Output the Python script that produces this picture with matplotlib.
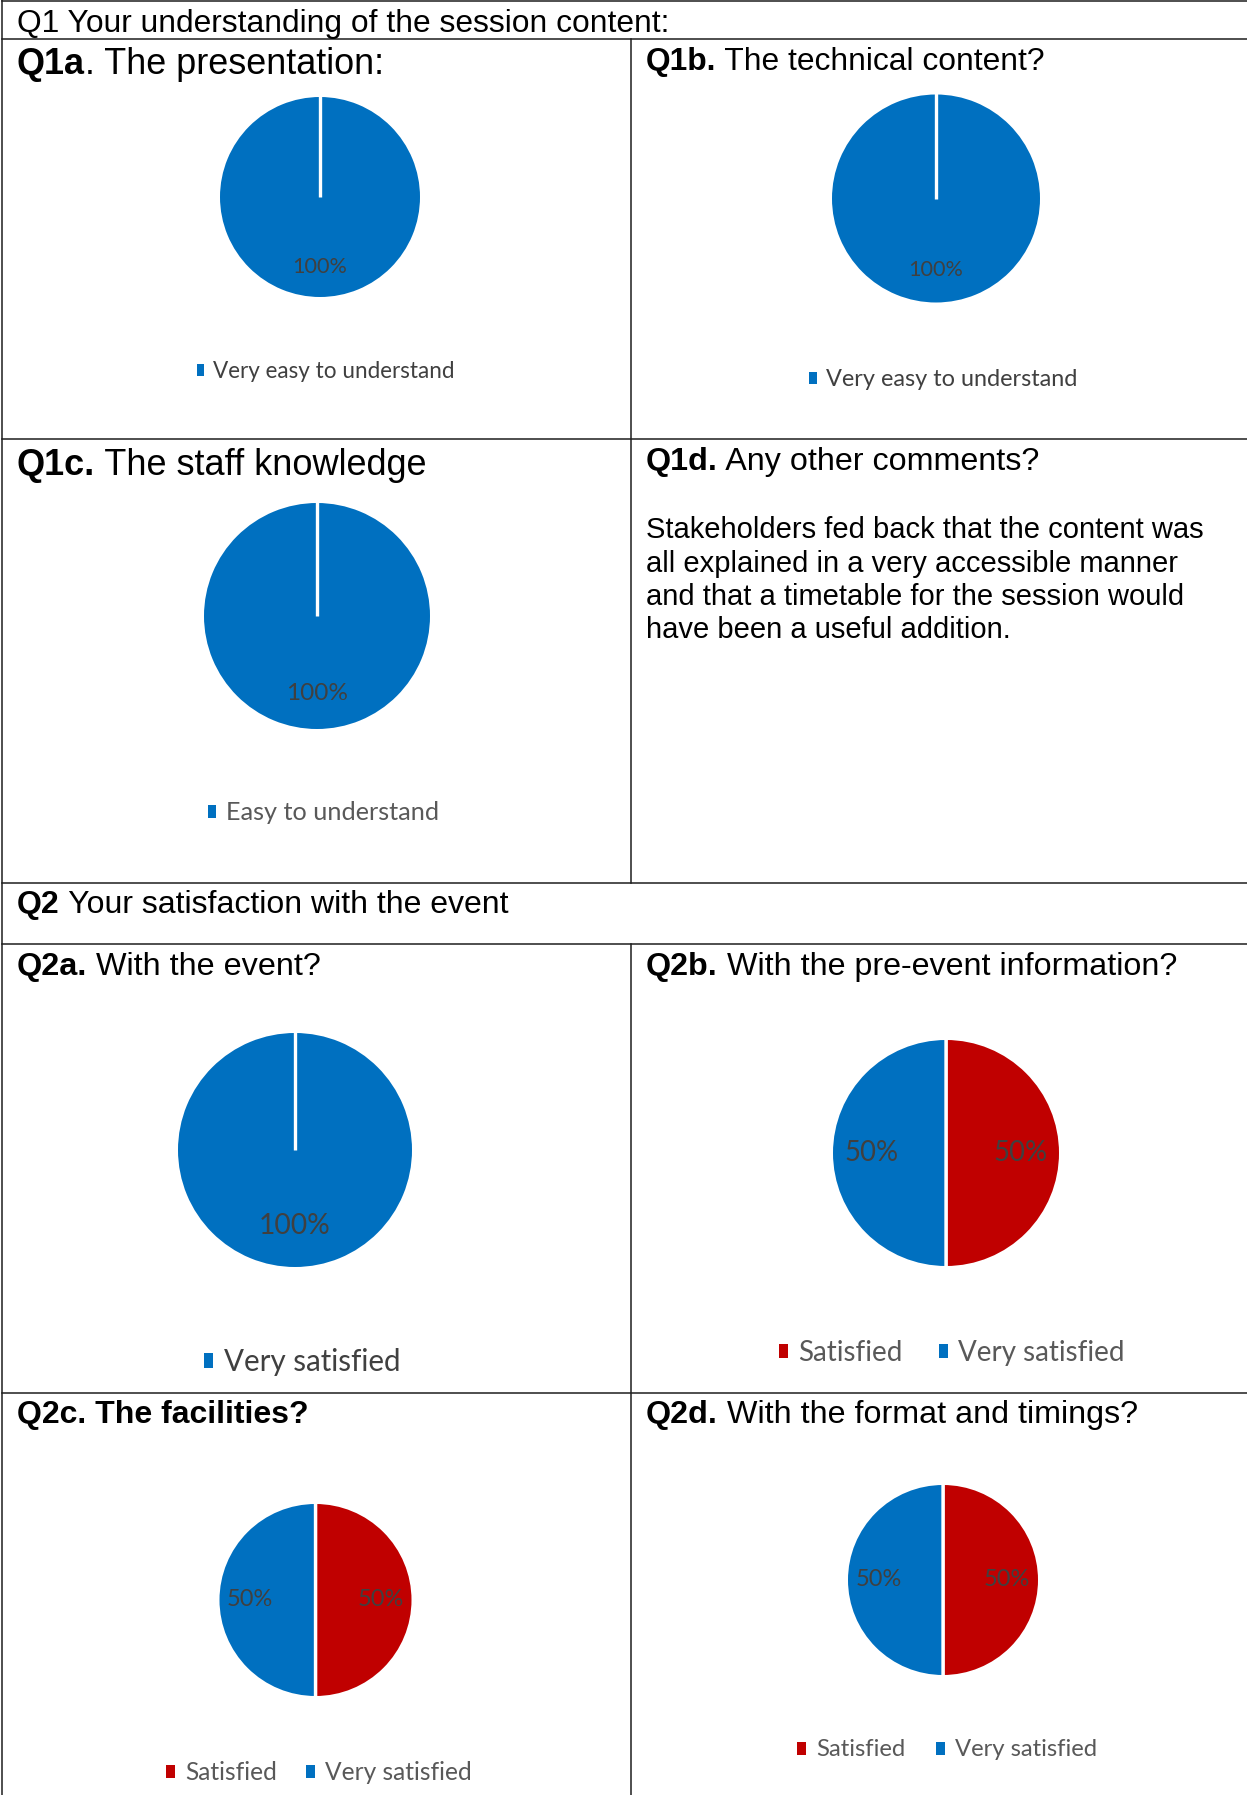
import numpy as np
import matplotlib
matplotlib.use('Agg')
import matplotlib.pyplot as plt
from matplotlib.patches import Patch

W, H = 1247, 1795
DPI = 100

BLUE = '#0070C0'
RED = '#C00000'

# ---------------- data ----------------
q1_header = 'Q1 Your understanding of the session content:'
q2_header = ('Q2', ' Your satisfaction with the event')

q1a_title = ('Q1a', '. The presentation:')
q1a_categories = ['Very easy to understand']
q1a_values = [100]

q1b_title = ('Q1b.', ' The technical content?')
q1b_categories = ['Very easy to understand']
q1b_values = [100]

q1c_title = ('Q1c.', ' The staff knowledge')
q1c_categories = ['Easy to understand']
q1c_values = [100]

q1d_title = ('Q1d.', ' Any other comments?')
q1d_comment = ['Stakeholders fed back that the content was',
               'all explained in a very accessible manner',
               'and that a timetable for the session would',
               'have been a useful addition.']

q2a_title = ('Q2a.', ' With the event?')
q2a_categories = ['Very satisfied']
q2a_values = [100]

q2b_title = ('Q2b.', ' With the pre-event information?')
q2b_categories = ['Satisfied', 'Very satisfied']
q2b_values = [50, 50]

q2c_title = ('Q2c. The facilities?', '')
q2c_categories = ['Satisfied', 'Very satisfied']
q2c_values = [50, 50]

q2d_title = ('Q2d.', ' With the format and timings?')
q2d_categories = ['Satisfied', 'Very satisfied']
q2d_values = [50, 50]

category_colors = {'Very easy to understand': BLUE, 'Easy to understand': BLUE,
                   'Very satisfied': BLUE, 'Satisfied': RED}

# ---------------- figure ----------------
fig = plt.figure(figsize=(W / DPI, H / DPI), dpi=DPI)
fig.patch.set_facecolor('white')
bg = fig.add_axes([0, 0, 1, 1])
bg.set_xlim(0, W)
bg.set_ylim(H, 0)
bg.axis('off')
renderer = fig.canvas.get_renderer()

SANS = 'Liberation Sans'
CAL = 'Lato'
LINE_C = '#1e1e1e'
LINE_W = 1.1

# table grid
XL, XM = 2, 631
bg.plot([XL, XL], [0, H], color=LINE_C, lw=LINE_W)
for y in [1, 39, 439, 883, 944, 1393]:
    bg.plot([XL, W], [y, y], color=LINE_C, lw=LINE_W)
bg.plot([XM, XM], [39, 883], color=LINE_C, lw=LINE_W)
bg.plot([XM, XM], [944, H], color=LINE_C, lw=LINE_W)


def rich(x, y, parts, size):
    bold, regular = parts
    if bold:
        t = bg.text(x, y, bold, fontsize=size, fontweight='bold', family=SANS,
                    va='baseline', ha='left', color='black')
        x += t.get_window_extent(renderer).width
    if regular:
        bg.text(x, y, regular, fontsize=size, family=SANS,
                va='baseline', ha='left', color='black')


def fit_fs(text, target_px, family=CAL):
    t = bg.text(0, 0, text, fontsize=20, family=family)
    w = t.get_window_extent(renderer).width
    t.remove()
    return 20 * target_px / w


# headers / titles
LX, RX = 17, 646
bg.text(LX, 32, q1_header, fontsize=22.9, family=SANS, va='baseline', color='black')
rich(LX, 74, q1a_title, 25.9)
rich(RX, 70, q1b_title, 22.9)
rich(LX, 475, q1c_title, 26.0)
rich(RX, 470, q1d_title, 23.2)
for i, line in enumerate(q1d_comment):
    bg.text(RX, 538 + i * 33.5, line, fontsize=21.0, family=SANS, va='baseline', color='black')
rich(LX, 913, q2_header, 23.0)
rich(LX, 975, q2a_title, 23.3)
rich(RX, 975, q2b_title, 23.2)
rich(LX, 1423, (q2c_title[0], None), 23.0)
rich(RX, 1423, q2d_title, 23.2)

EDGE_PT = 2.4
EDGE_PX = EDGE_PT * DPI / 72


def draw_pie(values, cats, cx, cy, r, pctd, lbl_w, legend_xy, legend_w, leg_color,
             hw, hh, tpad, colsp):
    R = r + EDGE_PX / 2
    ax = fig.add_axes([(cx - R) / W, 1 - (cy + R) / H, 2 * R / W, 2 * R / H])
    lbl = '%d%%' % values[0]
    fs_l = fit_fs(lbl, lbl_w)
    wedges, texts, autotexts = ax.pie(
        values, colors=[category_colors[c] for c in cats], startangle=90,
        counterclock=False, radius=1, autopct='%.0f%%', pctdistance=pctd,
        wedgeprops=dict(edgecolor='white', linewidth=EDGE_PT),
        textprops=dict(color='#404040', fontsize=fs_l, family=CAL))
    if len(wedges) == 1:
        w = wedges[0]
        th = np.deg2rad(w.theta1)
        ax.plot([w.center[0], w.center[0] + w.r * np.cos(th)],
                [w.center[1], w.center[1] + w.r * np.sin(th)],
                color='white', lw=EDGE_PT, solid_capstyle='butt', zorder=5)
    ax.set_xlim(-1, 1)
    ax.set_ylim(-1, 1)
    ax.axis('off')

    longest = max(cats, key=len)
    fs = fit_fs(longest, legend_w)
    fs_px = fs * DPI / 72
    handles = [Patch(facecolor=category_colors[c], edgecolor='none') for c in cats]
    fig.legend(handles, cats, loc='center',
               bbox_to_anchor=(legend_xy[0] / W, 1 - legend_xy[1] / H),
               ncol=len(cats), frameon=False, prop=dict(family=CAL, size=fs),
               labelcolor=leg_color, handlelength=hw / fs_px, handleheight=hh / fs_px,
               handletextpad=tpad / fs_px, columnspacing=colsp / fs_px,
               borderpad=0, borderaxespad=0)


draw_pie(q1a_values, q1a_categories, 320, 197, 100, 0.69, 55, (326, 372), 242, '#404040', 7, 10, 9, 30)
draw_pie(q1b_values, q1b_categories, 936, 198.5, 104, 0.68, 55, (943, 380), 253, '#404040', 8, 10, 9, 30)
draw_pie(q1c_values, q1c_categories, 317, 616, 113, 0.68, 62, (323.5, 813), 213, '#595959', 8, 11, 10, 30)
draw_pie(q2a_values, q2a_categories, 295, 1150, 117, 0.64, 72, (302.5, 1362), 177, '#404040', 9, 12, 11, 30)
draw_pie(q2b_values, q2b_categories, 946, 1153, 113, 0.65, 54, (952, 1353), 166, '#595959', 9, 11, 10, 37)
draw_pie(q2c_values, q2c_categories, 315.5, 1600, 96, 0.67, 46, (319, 1773), 147, '#595959', 9, 11, 10, 29)
draw_pie(q2d_values, q2d_categories, 943, 1580, 95, 0.66, 46, (947, 1750), 143, '#595959', 9, 11, 10, 31)

fig.savefig('out.png', dpi=DPI, facecolor='white')
